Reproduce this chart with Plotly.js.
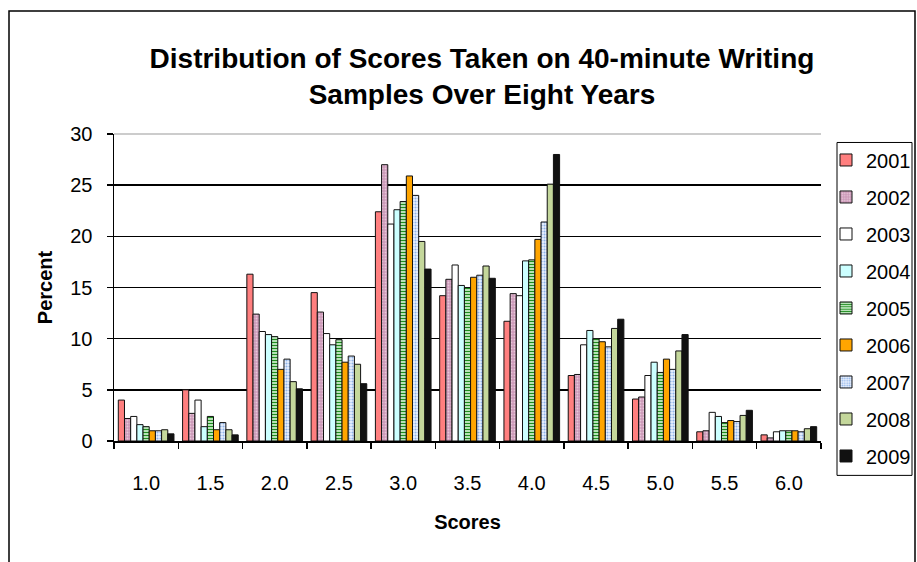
<!DOCTYPE html>
<html>
<head>
<meta charset="utf-8">
<script src="https://cdn.plot.ly/plotly-3.0.1.min.js"></script>
<style>html,body{margin:0;padding:0;background:#fff;}#chart{width:917px;height:562px;}</style>
</head>
<body>
<div id="chart"></div>
<script>
const categories = ["1.0","1.5","2.0","2.5","3.0","3.5","4.0","4.5","5.0","5.5","6.0"];
const years = ["2001","2002","2003","2004","2005","2006","2007","2008","2009"];
const v2001 = [4.0, 5.0, 16.3, 14.5, 22.4, 14.2, 11.7, 6.4, 4.1, 0.9, 0.6];
const v2002 = [2.2, 2.7, 12.4, 12.6, 27.0, 15.8, 14.4, 6.5, 4.3, 1.0, 0.3];
const v2003 = [2.4, 4.0, 10.7, 10.5, 21.2, 17.2, 14.2, 9.4, 6.4, 2.8, 0.9];
const v2004 = [1.6, 1.4, 10.4, 9.4, 22.6, 15.2, 17.6, 10.8, 7.7, 2.4, 1.0];
const v2005 = [1.4, 2.4, 10.2, 9.9, 23.4, 15.0, 17.7, 10.0, 6.7, 1.8, 1.0];
const v2006 = [1.0, 1.1, 7.0, 7.7, 25.9, 16.0, 19.7, 9.7, 8.0, 2.0, 1.0];
const v2007 = [1.0, 1.8, 8.0, 8.3, 24.0, 16.2, 21.4, 9.2, 7.0, 1.9, 0.9];
const v2008 = [1.1, 1.1, 5.8, 7.5, 19.5, 17.1, 25.1, 11.0, 8.8, 2.5, 1.2];
const v2009 = [0.7, 0.6, 5.1, 5.6, 16.8, 15.9, 28.0, 11.9, 10.4, 3.0, 1.4];
const seriesValues = [v2001, v2002, v2003, v2004, v2005, v2006, v2007, v2008, v2009];

const styles = [
  {color: "#FF7F7F"},
  {color: "#CC99B8", pattern: {shape: ".", fgcolor: "#E8C8DA", bgcolor: "#CC99B8", size: 3, solidity: 0.3}},
  {color: "#FFFFFF"},
  {color: "#CCFFFF"},
  {color: "#1E8C1E", pattern: {shape: "-", fgcolor: "#1E8C1E", bgcolor: "#E8FFE8", size: 3, solidity: 0.5}},
  {color: "#FFA500"},
  {color: "#C8DCF8", pattern: {shape: ".", fgcolor: "#8FB4E8", bgcolor: "#EAF2FF", size: 3, solidity: 0.4}},
  {color: "#C4D79B"},
  {color: "#111111"}
];

const traces = years.map((y, i) => {
  const m = {color: styles[i].color, line: {color: "#111", width: 1}};
  if (styles[i].pattern) m.pattern = Object.assign({fillmode: "replace"}, styles[i].pattern);
  return {
    type: "bar", name: y, x: categories, y: seriesValues[i],
    marker: m, legendgroup: y, hoverinfo: "x+y+name"
  };
});

const FAM = "Arial, 'Liberation Sans', sans-serif";
const NARROW = "'Liberation Sans Narrow', 'Arial Narrow', Arial, 'Liberation Sans', sans-serif";
const axisFont = {family: FAM, size: 20, color: "#000"};

const layout = {
  width: 917, height: 562,
  margin: {l: 114, r: 96, t: 133.5, b: 120.5, pad: 0, autoexpand: false},
  paper_bgcolor: "#fff", plot_bgcolor: "#fff",
  barmode: "group", bargap: 0.134, bargroupgap: 0,
  title: {
    text: "Distribution of Scores Taken on 40-minute Writing<br>Samples Over Eight Years",
    font: {family: NARROW, size: 28, color: "#000", weight: "bold"},
    x: 0.5256, xref: "container", xanchor: "center", y: 0.879, yref: "container", yanchor: "middle"
  },
  xaxis: {
    type: "category", showgrid: false, showline: true, linecolor: "#000", linewidth: 1.5,
    ticks: "outside", tickson: "boundaries", ticklen: 6, tickcolor: "#000", tickwidth: 1.5,
    tickfont: axisFont, ticklabelstandoff: 23, automargin: false,
    title: {text: "Scores", font: {family: FAM, size: 20, color: "#000", weight: "bold"}, standoff: 22}
  },
  yaxis: {
    range: [0, 30], dtick: 5, showgrid: true, gridcolor: "#000", gridwidth: 1.5,
    showline: true, linecolor: "#000", linewidth: 1.5, zeroline: false,
    ticks: "outside", ticklen: 6, tickcolor: "#000", tickwidth: 1.5,
    tickfont: axisFont, ticklabelstandoff: 10, automargin: false,
    title: {text: "Percent", font: {family: FAM, size: 20, color: "#000", weight: "bold"}, standoff: 12}
  },
  legend: {
    x: (826 - 114) / 707, y: (441.5 - 140) / 308, xanchor: "left", yanchor: "top",
    borderwidth: 0, bgcolor: "rgba(0,0,0,0)",
    font: {family: FAM, size: 20, color: "#000"},
    traceorder: "grouped", tracegroupgap: 8, itemwidth: 30, maxheight: 520
  },
  shapes: [{
    type: "rect", xref: "paper", yref: "paper",
    x0: (9 - 114) / 707, x1: (915 - 114) / 707, y0: (441.5 - 600) / 308, y1: (441.5 - 10) / 308,
    line: {color: "#000", width: 1.5}, fillcolor: "rgba(0,0,0,0)", layer: "below"
  }, {
    type: "line", xref: "paper", yref: "paper", x0: 0, x1: 1, y0: 1, y1: 1,
    line: {color: "#BBBBBB", width: 1.5}, layer: "below"
  }, {
    type: "rect", xref: "paper", yref: "paper",
    x0: (837 - 114) / 707, x1: (912 - 114) / 707, y0: (441.5 - 476) / 308, y1: (441.5 - 142) / 308,
    line: {color: "#000", width: 1}, fillcolor: "#fff", layer: "above"
  }]
};

Plotly.newPlot("chart", traces, layout, {staticPlot: true});
</script>
</body>
</html>
